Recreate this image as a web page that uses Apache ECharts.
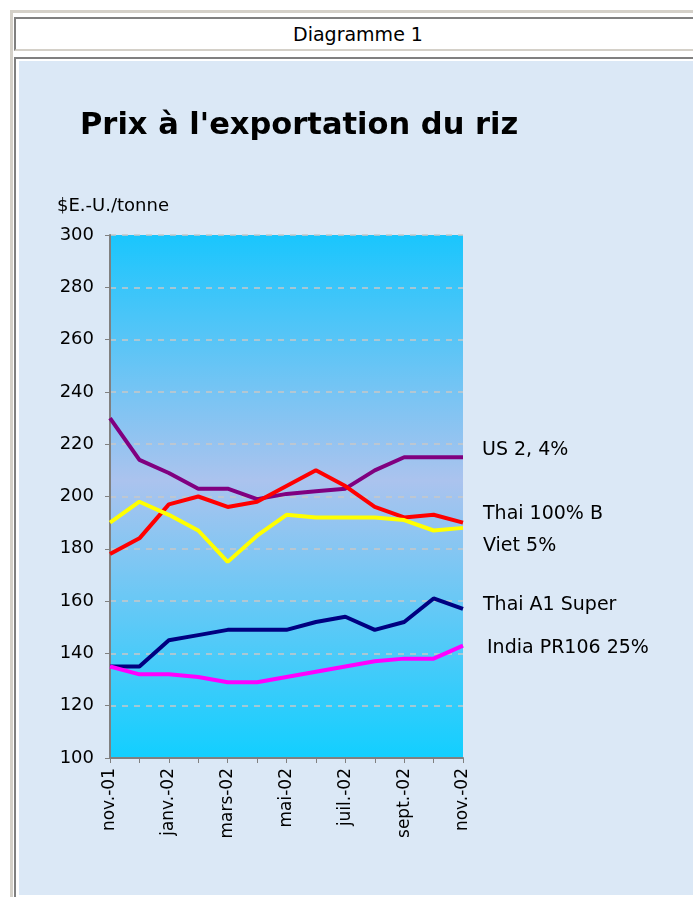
<!DOCTYPE html>
<html>
<head>
<meta charset="utf-8">
<script src="https://cdn.jsdelivr.net/npm/echarts@6/dist/echarts.min.js"></script>
<style>
  body { margin: 0; background: #ffffff; overflow: hidden; }
  .outer { position: absolute; left: 10px; top: 10px; width: 720px; height: 900px;
           border-left: 3px solid #d4d0c8; border-top: 3px solid #d4d0c8; }
  .head { position: absolute; left: 14px; top: 17px; width: 684px; height: 30px;
          border-left: 2px solid #808080; border-top: 2px solid #808080;
          border-bottom: 2px solid #d4d0c8; background: #fff;
          font: 19px "DejaVu Sans", sans-serif; color: #000; text-align: center; line-height: 30px; }
  .cell { position: absolute; left: 14px; top: 57px; width: 700px; height: 850px;
          border-left: 2px solid #808080; border-top: 2px solid #808080; background: #fff; }
  #chart { position: absolute; left: 19px; top: 61px; width: 674px; height: 834px; }
</style>
</head>
<body>
<div class="outer"></div>
<div class="head">Diagramme 1</div>
<div class="cell"></div>
<div id="chart"></div>
<script>
  // months nov. 2001 -> nov. 2002
  const months = ['nov.-01', 'déc.-01', 'janv.-02', 'févr.-02', 'mars-02', 'avr.-02', 'mai-02',
    'juin-02', 'juil.-02', 'août-02', 'sept.-02', 'oct.-02', 'nov.-02'];

  const us24 = [230, 214, 209, 203, 203, 199, 201, 202, 203, 210, 215, 215, 215];
  const thai100B = [178, 184, 197, 200, 196, 198, 204, 210, 204, 196, 192, 193, 190];
  const viet5 = [190, 198, 193, 187, 175, 185, 193, 192, 192, 192, 191, 187, 188];
  const thaiA1 = [135, 135, 145, 147, 149, 149, 149, 152, 154, 149, 152, 161, 157];
  const india25 = [135, 132, 132, 131, 129, 129, 131, 133, 135, 137, 138, 138, 143];

  const seriesNames = ['US 2, 4%', 'Thai 100% B', 'Viet 5%', 'Thai A1 Super', 'India PR106 25%'];
  const seriesColors = ['#800080', '#ff0000', '#ffff00', '#000080', '#ff00ff'];
  const labelOffsets = [[19, -7], [20, -9], [20, 18], [20, -4], [24, 3]];

  let chartDom = document.getElementById('chart');
  let myChart = echarts.init(chartDom);
  let option;

  const allData = [us24, thai100B, viet5, thaiA1, india25];

  option = {
    animation: false,
    backgroundColor: '#dbe8f6',
    title: {
      text: "Prix à l'exportation du riz",
      left: 56,
      top: 45,
      textStyle: {
        fontFamily: 'DejaVu Sans',
        fontWeight: 'bold',
        fontSize: 30.5,
        color: '#000'
      }
    },
    graphic: [
      {
        type: 'text',
        left: 38,
        top: 136,
        style: {
          text: '$E.-U./tonne',
          font: '18px "DejaVu Sans"',
          fill: '#000'
        }
      }
    ],
    grid: {
      left: 91,
      top: 174,
      width: 353,
      height: 523,
      show: true,
      borderWidth: 0,
      backgroundColor: {
        type: 'linear', x: 0, y: 0, x2: 0, y2: 1,
        colorStops: [
          { offset: 0, color: '#1ac6fd' },
          { offset: 0.47, color: '#abc3ee' },
          { offset: 1, color: '#12cfff' }
        ]
      }
    },
    xAxis: {
      type: 'category',
      data: months,
      boundaryGap: false,
      axisLine: { lineStyle: { color: '#808080', width: 2 } },
      axisTick: { show: true, interval: 0, length: 5, lineStyle: { color: '#808080' } },
      axisLabel: {
        interval: 1,
        rotate: 90,
        margin: 10,
        fontFamily: 'DejaVu Sans',
        fontSize: 17,
        color: '#000'
      },
      splitLine: { show: false }
    },
    yAxis: {
      type: 'value',
      min: 100,
      max: 300,
      interval: 20,
      axisLine: { show: true, lineStyle: { color: '#808080', width: 2 } },
      axisTick: { show: true, length: 5, lineStyle: { color: '#808080' } },
      axisLabel: {
        margin: 16,
        fontFamily: 'DejaVu Sans',
        fontSize: 18,
        color: '#000'
      },
      splitLine: { show: true, lineStyle: { color: '#c8c8c8', type: [6, 6], width: 1.5 } }
    },
    series: allData.map((d, i) => ({
      name: seriesNames[i],
      type: 'line',
      data: d,
      symbol: 'none',
      lineStyle: { color: seriesColors[i], width: 4 },
      itemStyle: { color: seriesColors[i] },
      endLabel: {
        show: true,
        formatter: '{a}',
        distance: 0,
        offset: labelOffsets[i],
        fontFamily: 'DejaVu Sans',
        fontSize: 19,
        color: '#000'
      }
    }))
  };
  myChart.setOption(option);
</script>
</body>
</html>
